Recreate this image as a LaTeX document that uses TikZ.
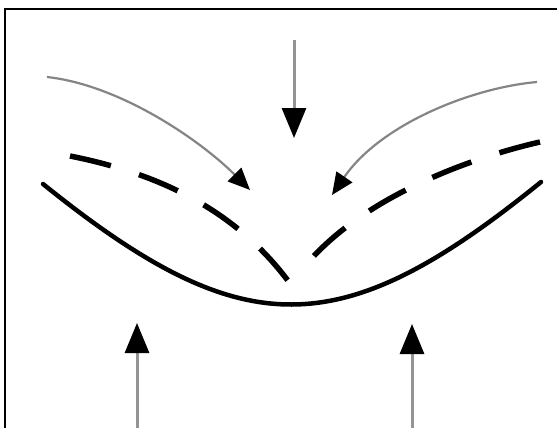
\documentclass[tikz,border=0pt]{standalone}
\usetikzlibrary{arrows.meta}
\begin{document}
\begin{tikzpicture}[x=1pt,y=-1pt,
  frameline/.style={line width=2pt,black},
  soilline/.style={line width=4.5pt,black,line cap=round},
  dashline/.style={line width=5.5pt,black,dash pattern=on 42pt off 29.5pt},
  forcearrow/.style={line width=3pt,draw=black!42,-{Triangle[length=30pt,width=24pt,color=black]}},
  flowarrow/.style={line width=2.2pt,draw=black!48,-{Triangle[length=22pt,width=19pt,color=black]}}]
\useasboundingbox (0,0) rectangle (557,428);
\fill[white] (0,0) rectangle (557,428);
% frame (open at bottom)
\draw[frameline] (5,430) -- (5,9) -- (558,9);
% named coordinates
\coordinate (topS) at (294,40);
\coordinate (topT) at (294,138);
\coordinate (blS) at (137,430);
\coordinate (blT) at (137,323);
\coordinate (brS) at (412,430);
\coordinate (brT) at (412,324);
\coordinate (lfS) at (47,77);
\coordinate (lfT) at (250,190);
\coordinate (rfS) at (537,82);
\coordinate (rfT) at (332,195);
\coordinate (sL) at (43,184);
\coordinate (sR) at (541,182);
\coordinate (dL) at (70,156);
\coordinate (dLm) at (294,289);
\coordinate (dR) at (540,142);
\coordinate (dRm) at (312,258);
% solid curve
\draw[soilline] (sL) .. controls (243,345) and (340,345) .. (sR);
% dashed curve
\draw[dashline] (dL) .. controls (150,172) and (235,205) .. (dLm);
\draw[dashline] (dR) .. controls (470,158) and (370,195) .. (dRm);
% arrows
\draw[forcearrow] (topS) -- (topT);
\draw[forcearrow] (blS) -- (blT);
\draw[forcearrow] (brS) -- (brT);
\draw[flowarrow] (lfS) .. controls (120,85) and (200,140) .. (lfT);
\draw[flowarrow] (rfS) .. controls (470,88) and (380,125) .. (rfT);
\end{tikzpicture}
\end{document}
